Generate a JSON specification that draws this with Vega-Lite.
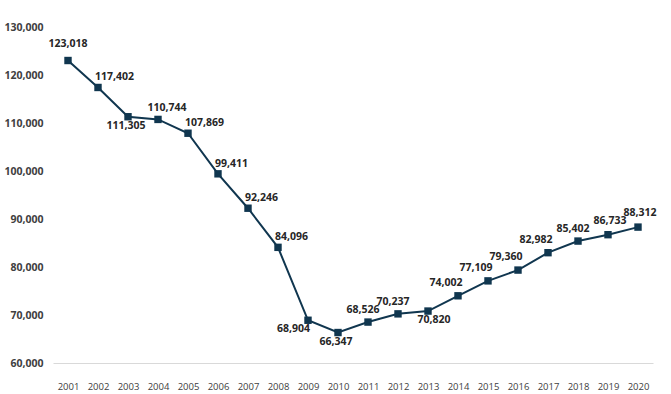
{
  "$schema": "https://vega.github.io/schema/vega-lite/v6.json",
  "width": 600,
  "height": 336,
  "autosize": {"type": "none"},
  "padding": {"left": 53, "top": 27, "right": 18, "bottom": 31},
  "background": "white",
  "data": {"values": [
    {"year": "2001", "value": 123018},
    {"year": "2002", "value": 117402},
    {"year": "2003", "value": 111305},
    {"year": "2004", "value": 110744},
    {"year": "2005", "value": 107869},
    {"year": "2006", "value": 99411},
    {"year": "2007", "value": 92246},
    {"year": "2008", "value": 84096},
    {"year": "2009", "value": 68904},
    {"year": "2010", "value": 66347},
    {"year": "2011", "value": 68526},
    {"year": "2012", "value": 70237},
    {"year": "2013", "value": 70820},
    {"year": "2014", "value": 74002},
    {"year": "2015", "value": 77109},
    {"year": "2016", "value": 79360},
    {"year": "2017", "value": 82982},
    {"year": "2018", "value": 85402},
    {"year": "2019", "value": 86733},
    {"year": "2020", "value": 88312}
  ]},
  "encoding": {
    "x": {"field": "year", "type": "ordinal", "scale": {"type": "point", "padding": 0.5},
      "axis": {"title": null, "labelAngle": 0, "ticks": false, "domain": true, "domainColor": "#d9d9d9", "domainWidth": 1,
        "grid": false, "labelPadding": 18, "labelFont": "Open Sans", "labelFontSize": 9.5, "labelColor": "#404040"}},
    "y": {"field": "value", "type": "quantitative", "scale": {"domain": [60000, 130000], "nice": false, "zero": false},
      "axis": {"title": null, "domain": false, "ticks": false, "grid": false,
        "values": [60000, 70000, 80000, 90000, 100000, 110000, 120000, 130000],
        "labelExpr": "format(datum.value, ',')",
        "labelFont": "Open Sans", "labelFontSize": 10.5, "labelFontWeight": "bold", "labelColor": "#404040", "labelPadding": 10}}
  },
  "layer": [
    {"mark": {"type": "line", "color": "#10364f", "strokeWidth": 2}},
    {"mark": {"type": "point", "shape": "square", "filled": true, "size": 55, "color": "#10364f", "opacity": 1}},
    {"transform": [{"filter": "datum.year == '2001'"}],
      "mark": {"type": "text", "font": "Open Sans", "fontSize": 10.5, "fontWeight": "bold", "color": "#262626", "align": "center", "baseline": "middle", "dy": -17},
      "encoding": {"text": {"field": "value", "type": "quantitative", "format": ","}}},
    {"transform": [{"filter": "datum.year == '2019' || datum.year == '2020'"}],
      "mark": {"type": "text", "font": "Open Sans", "fontSize": 10.5, "fontWeight": "bold", "color": "#262626", "align": "center", "baseline": "middle", "dx": 2, "dy": -14},
      "encoding": {"text": {"field": "value", "type": "quantitative", "format": ","}}},
    {"transform": [{"filter": "datum.year >= '2014' && datum.year <= '2017'"}],
      "mark": {"type": "text", "font": "Open Sans", "fontSize": 10.5, "fontWeight": "bold", "color": "#262626", "align": "center", "baseline": "middle", "dx": -12, "dy": -13},
      "encoding": {"text": {"field": "value", "type": "quantitative", "format": ","}}},
    {"transform": [{"filter": "datum.year == '2011' || datum.year == '2012' || datum.year == '2018'"}],
      "mark": {"type": "text", "font": "Open Sans", "fontSize": 10.5, "fontWeight": "bold", "color": "#262626", "align": "center", "baseline": "middle", "dx": -5, "dy": -12},
      "encoding": {"text": {"field": "value", "type": "quantitative", "format": ","}}},
    {"transform": [{"filter": "datum.year == '2004'"}],
      "mark": {"type": "text", "font": "Open Sans", "fontSize": 10.5, "fontWeight": "bold", "color": "#262626", "align": "center", "baseline": "middle", "dx": 9, "dy": -11},
      "encoding": {"text": {"field": "value", "type": "quantitative", "format": ","}}},
    {"transform": [{"filter": "datum.year == '2002' || (datum.year >= '2005' && datum.year <= '2008')"}],
      "mark": {"type": "text", "font": "Open Sans", "fontSize": 10.5, "fontWeight": "bold", "color": "#262626", "align": "left", "baseline": "middle", "dx": -3, "dy": -10},
      "encoding": {"text": {"field": "value", "type": "quantitative", "format": ","}}},
    {"transform": [{"filter": "datum.year == '2003' || datum.year == '2010'"}],
      "mark": {"type": "text", "font": "Open Sans", "fontSize": 10.5, "fontWeight": "bold", "color": "#262626", "align": "center", "baseline": "middle", "dx": -2, "dy": 9},
      "encoding": {"text": {"field": "value", "type": "quantitative", "format": ","}}},
    {"transform": [{"filter": "datum.year == '2013'"}],
      "mark": {"type": "text", "font": "Open Sans", "fontSize": 10.5, "fontWeight": "bold", "color": "#262626", "align": "center", "baseline": "middle", "dx": 6, "dy": 9},
      "encoding": {"text": {"field": "value", "type": "quantitative", "format": ","}}},
    {"transform": [{"filter": "datum.year == '2009'"}],
      "mark": {"type": "text", "font": "Open Sans", "fontSize": 10.5, "fontWeight": "bold", "color": "#262626", "align": "right", "baseline": "middle", "dx": 2, "dy": 9},
      "encoding": {"text": {"field": "value", "type": "quantitative", "format": ","}}}
  ],
  "config": {"view": {"stroke": null}}
}
